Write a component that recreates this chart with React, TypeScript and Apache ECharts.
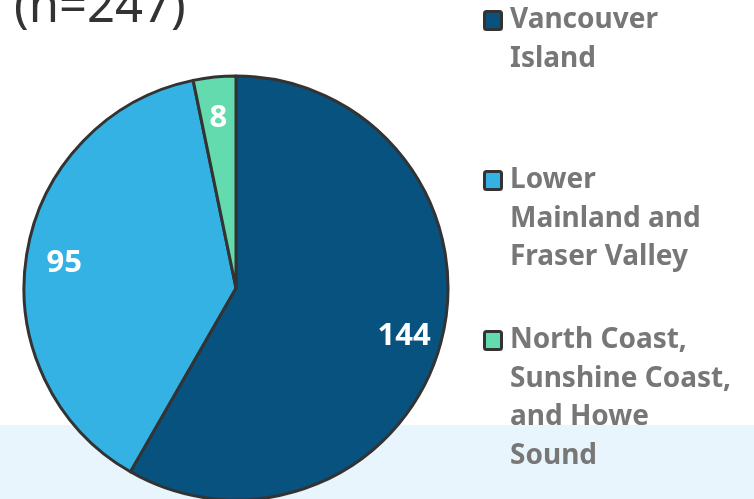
import React, { useEffect, useRef } from "react";
import * as echarts from "echarts";

const categories = [
  "Vancouver Island",
  "Lower Mainland and Fraser Valley",
  "North Coast, Sunshine Coast, and Howe Sound",
];
const legendLines = [
  ["Vancouver", "Island"],
  ["Lower", "Mainland and", "Fraser Valley"],
  ["North Coast,", "Sunshine Coast,", "and Howe", "Sound"],
];
const values = [144, 95, 8];
const colors = ["#08527f", "#35b2e4", "#63dbae"];
const titleText = "(n=247)";

export default function App() {
  const ref = useRef<HTMLDivElement>(null);
  useEffect(() => {
    if (!ref.current) return;
    const chart = echarts.init(ref.current, undefined, { renderer: "svg" });
    const data = categories.map((name, i) => ({
      name,
      value: values[i],
      itemStyle: { color: colors[i] },
    }));
    const legendBaselines = [28, 188, 348];
    const lineStep = 38.5;
    const graphics: any[] = [
      {
        type: "rect",
        z: -10,
        shape: { x: 0, y: 425, width: 754, height: 74 },
        style: { fill: "#e9f5fc" },
        silent: true,
      },
      {
        type: "text",
        x: 14,
        y: 3,
        style: {
          text: titleText,
          font: "normal 49px 'Noto Sans'",
          fill: "#333333",
          verticalAlign: "middle",
        },
      },
    ];
    categories.forEach((c, i) => {
      const base = legendBaselines[i];
      graphics.push({
        type: "rect",
        shape: { x: 484.5, y: base - 16.5, width: 17, height: 18, r: 2 },
        style: { fill: colors[i], stroke: "#333333", lineWidth: 3 },
      });
      legendLines[i].forEach((line, j) => {
        graphics.push({
          type: "text",
          x: 510,
          y: base + j * lineStep - 11,
          style: {
            text: line,
            font: "bold 28px 'Noto Sans'",
            fill: "#777777",
            verticalAlign: "middle",
          },
        });
      });
    });
    chart.setOption({
      animation: false,
      graphic: graphics,
      series: [
        {
          type: "pie",
          center: [236, 288],
          radius: 212,
          startAngle: 90,
          clockwise: true,
          data,
          label: { show: false },
          labelLine: { show: false },
          itemStyle: { borderColor: "#333333", borderWidth: 3 },
          silent: true,
        },
        {
          type: "pie",
          center: [236, 288],
          radius: [130, 212],
          startAngle: 90,
          clockwise: true,
          data: categories.map((name, i) => ({ name, value: values[i] })),
          itemStyle: { color: "rgba(0,0,0,0)" },
          label: {
            show: true,
            position: "inside",
            formatter: "{c}",
            color: "#ffffff",
            fontFamily: "Noto Sans",
            fontWeight: "bold",
            fontSize: 31,
          },
          labelLine: { show: false },
          silent: true,
          z: 3,
        },
      ],
    });
    return () => chart.dispose();
  }, []);
  return (
    <div
      ref={ref}
      style={{ position: "fixed", left: 0, top: 0, width: 754, height: 499 }}
    />
  );
}
